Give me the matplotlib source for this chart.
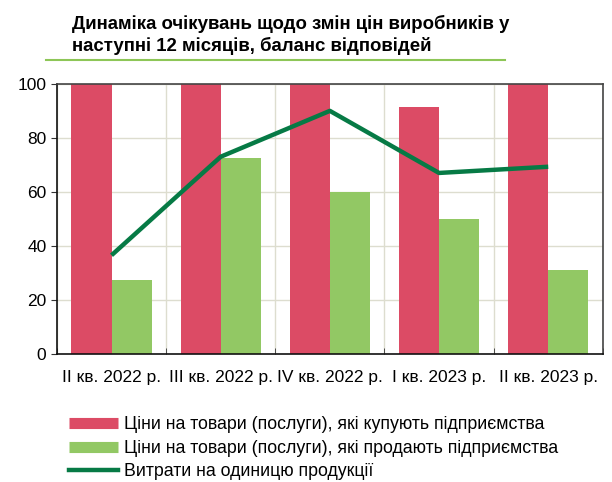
import matplotlib.pyplot as plt
import numpy as np
from matplotlib.lines import Line2D

plt.rcParams['font.family'] = ['Liberation Sans', 'DejaVu Sans']

quarters = ['II кв. 2022 р.', 'III кв. 2022 р.', 'IV кв. 2022 р.', 'I кв. 2023 р.', 'II кв. 2023 р.']
buy_prices = [100, 100, 100, 91.5, 100]
sell_prices = [27.5, 72.5, 60, 50, 31]
unit_costs = [36.5, 73, 90, 67, 69.3]

red = '#DC4B65'
light_green = '#92C864'
dark_green = '#067A45'

fig = plt.figure(figsize=(6.12, 4.82), dpi=100)
ax = fig.add_axes([0.093, 0.266, 0.892, 0.56])

x = np.arange(len(quarters))
w = 0.367
ax.bar(x - w / 2, buy_prices, w, color=red, zorder=2)
ax.bar(x + w / 2, sell_prices, w, color=light_green, zorder=2)
ax.plot(x, unit_costs, color=dark_green, lw=3.2, zorder=3, solid_capstyle='butt')

ax.set_xlim(-0.5, len(quarters) - 0.5)
ax.set_ylim(0, 100)
ax.set_yticks(range(0, 101, 20))
ax.set_xticks(x)
ax.set_xticklabels(quarters)
ax.set_xticks(np.arange(-0.5, len(quarters)), minor=True)
ax.tick_params(axis='x', which='major', length=0, pad=12, labelsize=12.5)
ax.tick_params(axis='x', which='minor', length=4, direction='in', color='#333333')
ax.tick_params(axis='y', length=4, labelsize=12.5, color='#333333')
ax.grid(True, axis='y', color='#DDDDCF', lw=1, zorder=0)
ax.grid(True, axis='x', which='minor', color='#DDDDCF', lw=1, zorder=0)
for s in ax.spines.values():
    s.set_color('#444444')
    s.set_linewidth(1.2)
ax.spines['left'].set_color('#111111')
ax.spines['bottom'].set_color('#111111')

fig.text(0.118, 0.969, 'Динаміка очікувань щодо змін цін виробників у\nнаступні 12 місяців, баланс відповідей',
         fontsize=13.4, fontweight='bold', va='top', ha='left', linespacing=1.25)
fig.add_artist(Line2D([0.075, 0.825], [0.876, 0.876], color='#8DC657', lw=1.5))

handles = [Line2D([], [], color=red, lw=8, solid_capstyle='butt'),
           Line2D([], [], color=light_green, lw=8, solid_capstyle='butt'),
           Line2D([], [], color=dark_green, lw=3.2)]
labels = ['Ціни на товари (послуги), які купують підприємства',
          'Ціни на товари (послуги), які продають підприємства',
          'Витрати на одиницю продукції']
fig.legend(handles, labels, loc='upper left', bbox_to_anchor=(0.112, 0.136), frameon=False,
           fontsize=12.8, handlelength=2.8, handletextpad=0.3, labelspacing=0.36,
           borderaxespad=0, borderpad=0)

fig.savefig('out.png', dpi=100)
